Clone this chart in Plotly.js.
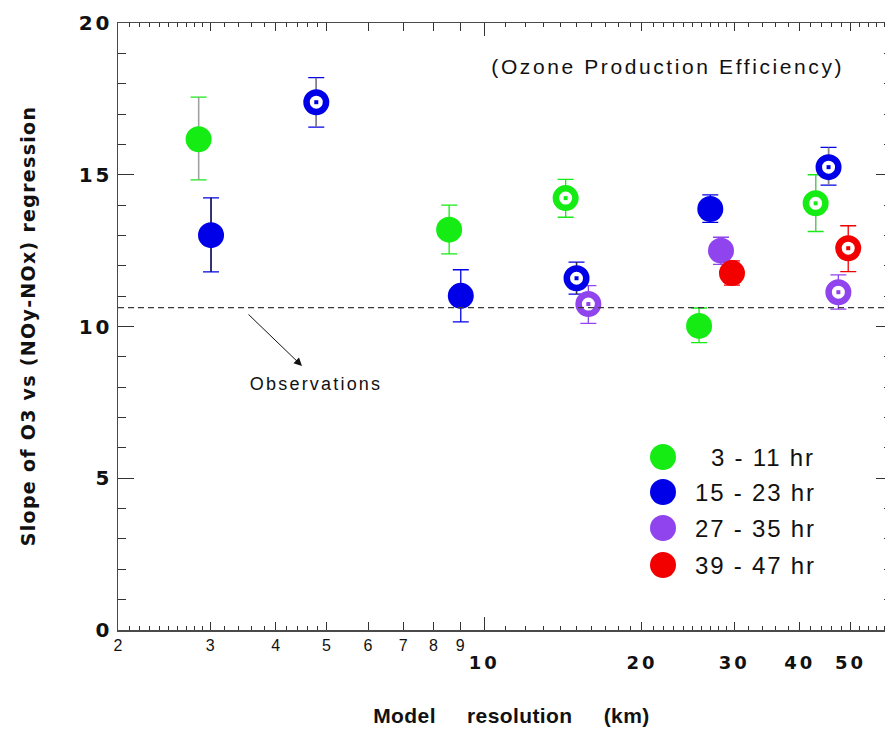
<!DOCTYPE html>
<html>
<head>
<meta charset="utf-8">
<script src="https://cdn.plot.ly/plotly-3.0.1.min.js"></script>
<style>
html, body { margin:0; padding:0; overflow:hidden; background:#fff; }
#chart { width:892px; height:730px; }
.ytick text, .x2tick text { letter-spacing: 3px; }
g.annotation[data-index="0"] text { letter-spacing: 2.6px; }
g.annotation[data-index="1"] text { letter-spacing: 2.2px; }
g.annotation[data-index="3"] text, g.annotation[data-index="4"] text,
g.annotation[data-index="5"] text, g.annotation[data-index="6"] text { letter-spacing: 1.8px; }
g.annotation[data-index="7"] text { letter-spacing: 0.4px; }
g.annotation[data-index="8"] text { letter-spacing: 1.3px; }
</style>
</head>
<body>
<div id="chart"></div>
<script>
// ---------------- DATA ----------------
// Model resolution (km) and slope of O3 vs (NOy-NOx) regression
// Green: 3 - 11 hr
const greenFilledX = [2.85, 8.57, 25.7];
const greenFilledY = [16.17, 13.19, 10.02];
const greenFilledErrUp = [1.39, 0.81, 0.59];
const greenFilledErrDn = [1.34, 0.80, 0.55];
const greenOpenX = [14.3, 42.9];
const greenOpenY = [14.23, 14.06];
const greenOpenErrUp = [0.62, 0.94];
const greenOpenErrDn = [0.63, 0.93];
// Blue: 15 - 23 hr
const blueFilledX = [3.01, 9.02, 27.0];
const blueFilledY = [13.01, 11.01, 13.87];
const blueFilledErrUp = [1.23, 0.86, 0.47];
const blueFilledErrDn = [1.21, 0.86, 0.44];
const blueOpenX = [4.78, 15.0, 45.4];
const blueOpenY = [17.39, 11.59, 15.25];
const blueOpenErrUp = [0.81, 0.53, 0.65];
const blueOpenErrDn = [0.82, 0.52, 0.59];
// Purple: 27 - 35 hr
const purpleFilledX = [28.3];
const purpleFilledY = [12.50];
const purpleFilledErrUp = [0.44];
const purpleFilledErrDn = [0.45];
const purpleOpenX = [15.8, 47.4];
const purpleOpenY = [10.74, 11.13];
const purpleOpenErrUp = [0.61, 0.57];
const purpleOpenErrDn = [0.64, 0.56];
// Red: 39 - 47 hr
const redFilledX = [29.7];
const redFilledY = [11.76];
const redFilledErrUp = [0.40];
const redFilledErrDn = [0.40];
const redOpenX = [49.5];
const redOpenY = [12.58];
const redOpenErrUp = [0.74];
const redOpenErrDn = [0.77];

// Observed value (dashed line)
const observationValue = 10.62;

// Tick labels
const xSmallTickVals = [2, 3, 4, 5, 6, 7, 8, 9];
const xSmallTickText = ['2', '3', '4', '5', '6', '7', '8', '9'];
const xBigTickVals = [10, 20, 30, 40, 50];
const xBigTickText = ['10', '20', '30', '40', '50'];
const yTickVals = [0, 5, 10, 15, 20];
const yTickText = ['0', '5', '10', '15', '20'];

const legendLabels = ['3 - 11 hr', '15 - 23 hr', '27 - 35 hr', '39 - 47 hr'];
const chartTitle = '(Ozone Production Efficiency)';
const obsLabel = 'Observations';
const xTitle = 'Model\u00a0\u00a0\u00a0\u00a0\u00a0resolution\u00a0\u00a0\u00a0\u00a0\u00a0(km)';
const yTitle = 'Slope of O3 vs (NOy-NOx) regression';

// ---------------- STYLE ----------------
const COL = { green: '#14ec14', blue: '#0000e8', purple: '#9044ee', red: '#f20000' };
const legendColors = [COL.green, COL.blue, COL.purple, COL.red];

const series = [
  { x: greenFilledX, y: greenFilledY, up: greenFilledErrUp, dn: greenFilledErrDn, c: COL.green, open: false, stem: ['#a0a0a0', null, null] },
  { x: greenOpenX, y: greenOpenY, up: greenOpenErrUp, dn: greenOpenErrDn, c: COL.green, open: true, stem: [null, '#a0a0a0'] },
  { x: blueFilledX, y: blueFilledY, up: blueFilledErrUp, dn: blueFilledErrDn, c: COL.blue, open: false, stem: ['#222', null, null] },
  { x: blueOpenX, y: blueOpenY, up: blueOpenErrUp, dn: blueOpenErrDn, c: COL.blue, open: true, stem: ['#888', '#333', '#888'] },
  { x: purpleFilledX, y: purpleFilledY, up: purpleFilledErrUp, dn: purpleFilledErrDn, c: COL.purple, open: false, stem: [null] },
  { x: purpleOpenX, y: purpleOpenY, up: purpleOpenErrUp, dn: purpleOpenErrDn, c: COL.purple, open: true, stem: [null, null] },
  { x: redFilledX, y: redFilledY, up: redFilledErrUp, dn: redFilledErrDn, c: COL.red, open: false, stem: [null] },
  { x: redOpenX, y: redOpenY, up: redOpenErrUp, dn: redOpenErrDn, c: COL.red, open: true, stem: [null] }
];

const traces = [];
// error bars with coloured caps
series.forEach(s => {
  traces.push({
    type: 'scatter', mode: 'markers', x: s.x, y: s.y, hoverinfo: 'skip',
    marker: { size: 1, color: 'rgba(0,0,0,0)' },
    error_y: { type: 'data', symmetric: false, array: s.up, arrayminus: s.dn,
               color: s.c, thickness: 1.3, width: 8 }
  });
});
// differently coloured stems
series.forEach(s => {
  const groups = {};
  s.stem.forEach((col, i) => { if (col) { (groups[col] = groups[col] || []).push(i); } });
  Object.keys(groups).forEach(col => {
    const idx = groups[col];
    traces.push({
      type: 'scatter', mode: 'markers', hoverinfo: 'skip',
      x: idx.map(i => s.x[i]), y: idx.map(i => s.y[i]),
      marker: { size: 1, color: 'rgba(0,0,0,0)' },
      error_y: { type: 'data', symmetric: false,
                 array: idx.map(i => s.up[i]), arrayminus: idx.map(i => s.dn[i]),
                 color: col, thickness: 1.3, width: 0 }
    });
  });
});
// markers
series.forEach(s => {
  if (!s.open) {
    traces.push({ type: 'scatter', mode: 'markers', x: s.x, y: s.y, hoverinfo: 'skip',
      marker: { symbol: 'circle', size: 26, color: s.c, line: { width: 0 } } });
  } else {
    traces.push({ type: 'scatter', mode: 'markers', x: s.x, y: s.y, hoverinfo: 'skip',
      marker: { symbol: 'circle', size: 19.5, color: '#ffffff', line: { width: 6.5, color: s.c } } });
    traces.push({ type: 'scatter', mode: 'markers', x: s.x, y: s.y, hoverinfo: 'skip',
      marker: { symbol: 'square', size: 4, color: s.c, line: { width: 0 } } });
  }
});
// placeholders so that the overlay axes (big labels, long tick at 10) get drawn
traces.push({ type: 'scatter', mode: 'markers', xaxis: 'x2', yaxis: 'y', x: [xBigTickVals[0]], y: [-100],
  hoverinfo: 'skip', marker: { size: 1, color: 'rgba(0,0,0,0)' } });
traces.push({ type: 'scatter', mode: 'markers', xaxis: 'x3', yaxis: 'y', x: [xBigTickVals[0]], y: [-100],
  hoverinfo: 'skip', marker: { size: 1, color: 'rgba(0,0,0,0)' } });

// minor tick positions (axis decoration)
const minorX = [];
for (let v = 2.1; v < 2.95; v += 0.1) minorX.push(+v.toFixed(2));
for (let v = 3.2; v < 4.9; v += 0.2) { const r = +v.toFixed(2); if (Math.abs(r - 4) > 0.01) minorX.push(r); }
for (let v = 11; v <= 19; v++) minorX.push(v);
for (let v = 21; v <= 29; v++) minorX.push(v);
for (let v = 32; v <= 58; v += 2) { if (v !== 40 && v !== 50) minorX.push(v); }

const xRange = [Math.log10(2), Math.log10(60)];
const axisLine = '#4a4a4a';
const tickCol = '#333';

const plotLeft = 118, plotRight = 892, plotTop = 23, plotBottom = 630;
const px2paperX = p => (p - plotLeft) / (plotRight - plotLeft);
const px2paperY = p => (plotBottom - p) / (plotBottom - plotTop);

const legendY = [457, 492, 528, 565];
const shapes = [
  { type: 'line', xref: 'paper', x0: 0, x1: 1, yref: 'y', y0: observationValue, y1: observationValue,
    line: { color: '#3a3a3a', width: 1.2, dash: '6px,4px' } }
];
legendY.forEach((py, i) => {
  shapes.push({ type: 'circle', xref: 'paper', yref: 'paper', xsizemode: 'pixel', ysizemode: 'pixel',
    xanchor: px2paperX(663), yanchor: px2paperY(py), x0: -13, x1: 13, y0: -13, y1: 13,
    fillcolor: legendColors[i], line: { width: 0 } });
});

const annotations = [
  { text: chartTitle, xref: 'paper', yref: 'paper', x: px2paperX(667), y: px2paperY(66),
    xanchor: 'center', yanchor: 'middle', showarrow: false,
    font: { family: 'Liberation Sans, Arial, sans-serif', size: 21, color: '#111' } },
  { text: obsLabel, xref: 'paper', yref: 'paper', x: px2paperX(316), y: px2paperY(384),
    xanchor: 'center', yanchor: 'middle', showarrow: false,
    font: { family: 'Liberation Sans, Arial, sans-serif', size: 18, color: '#111' } },
  { text: '', xref: 'paper', yref: 'paper', x: px2paperX(302), y: px2paperY(366),
    ax: -55, ay: -53, showarrow: true, arrowhead: 2, arrowsize: 1.6, arrowwidth: 1, arrowcolor: '#111' }
];
legendLabels.forEach((t, i) => {
  annotations.push({ text: t, xref: 'paper', yref: 'paper', x: px2paperX(809), y: px2paperY(legendY[i]),
    xanchor: 'right', yanchor: 'middle', showarrow: false,
    font: { family: 'Liberation Sans, Arial, sans-serif', size: 24, color: '#111' } });
});
annotations.push({ text: xTitle, xref: 'paper', yref: 'paper', x: px2paperX(511), y: px2paperY(715),
  xanchor: 'center', yanchor: 'middle', showarrow: false,
  font: { family: 'Liberation Sans, Arial, sans-serif', size: 21, color: '#111', weight: 'bold' } });
annotations.push({ text: yTitle, xref: 'paper', yref: 'paper', x: px2paperX(27), y: 0.5,
  xanchor: 'center', yanchor: 'middle', textangle: -90, showarrow: false,
  font: { family: 'DejaVu Sans, sans-serif', size: 19, color: '#111', weight: 'bold' } });

const layout = {
  width: 892, height: 730,
  margin: { l: plotLeft, r: 892 - plotRight, t: plotTop, b: 730 - plotBottom },
  paper_bgcolor: '#fff', plot_bgcolor: '#fff', showlegend: false,
  xaxis: {
    type: 'log', range: xRange, tickmode: 'array',
    tickvals: xSmallTickVals.concat(xBigTickVals.slice(1)),
    ticktext: xSmallTickText.concat(xBigTickVals.slice(1).map(() => '')),
    ticks: 'inside', ticklen: 8, tickwidth: 1, tickcolor: tickCol,
    showline: true, linecolor: axisLine, linewidth: 1.5, mirror: 'ticks',
    showgrid: false, zeroline: false, fixedrange: true,
    tickfont: { family: 'Liberation Sans, Arial, sans-serif', size: 16, color: '#111' },
    minor: { tickmode: 'array', tickvals: minorX, ticks: 'inside', ticklen: 4, tickwidth: 1, tickcolor: tickCol, showgrid: false }
  },
  xaxis2: {
    type: 'log', range: xRange, overlaying: 'x', anchor: 'y', side: 'bottom',
    tickmode: 'array', tickvals: xBigTickVals, ticktext: xBigTickText,
    ticks: '', showline: false, showgrid: false, zeroline: false, fixedrange: true,
    ticklabelstandoff: 20,
    tickfont: { family: 'DejaVu Sans, sans-serif', size: 18, color: '#111', weight: 'bold' }
  },
  xaxis3: {
    type: 'log', range: xRange, overlaying: 'x', anchor: 'y', side: 'bottom',
    tickmode: 'array', tickvals: [10], ticks: 'inside', ticklen: 13, tickwidth: 1, tickcolor: tickCol,
    showticklabels: false, showline: true, linecolor: axisLine, linewidth: 1.5, mirror: 'ticks',
    showgrid: false, zeroline: false, fixedrange: true
  },
  yaxis: {
    range: [0, 20], tickmode: 'array', tickvals: yTickVals, ticktext: yTickText,
    ticks: 'inside', ticklen: 16, tickwidth: 1, tickcolor: tickCol,
    showline: true, linecolor: axisLine, linewidth: 1.5, mirror: 'ticks',
    showgrid: false, zeroline: false, fixedrange: true,
    tickfont: { family: 'DejaVu Sans, sans-serif', size: 20, color: '#111', weight: 'bold' },
    minor: { dtick: 1, ticks: 'inside', ticklen: 8, tickwidth: 1, tickcolor: tickCol, showgrid: false }
  },
  shapes: shapes,
  annotations: annotations
};

Plotly.newPlot('chart', traces, layout, { displayModeBar: false, staticPlot: true });
</script>
</body>
</html>
